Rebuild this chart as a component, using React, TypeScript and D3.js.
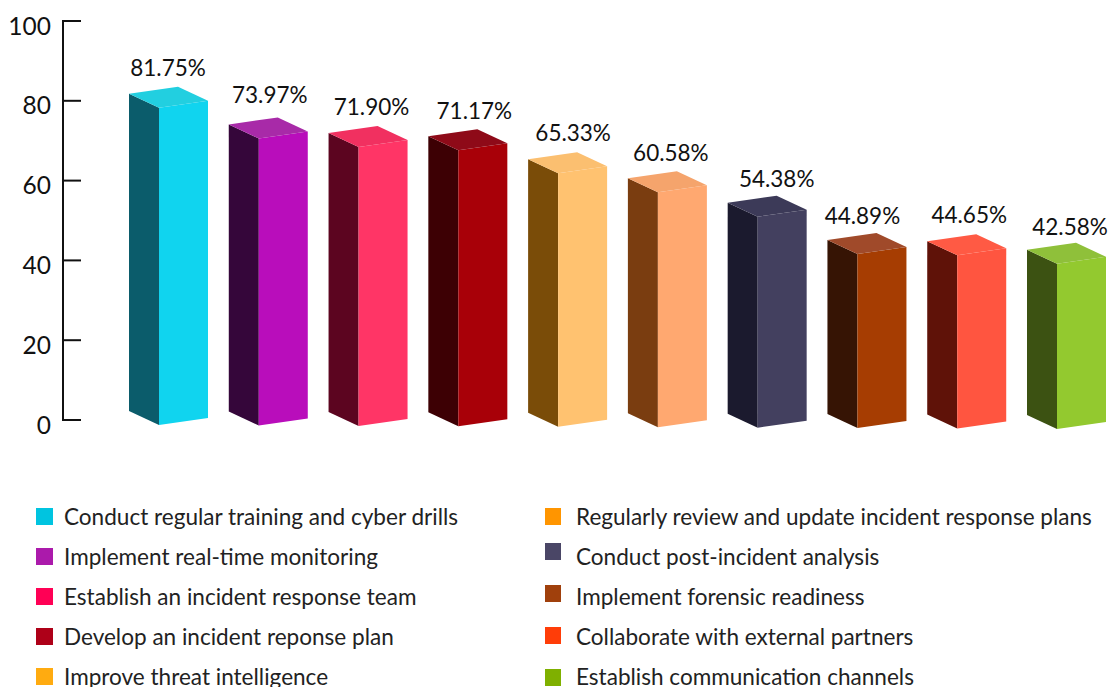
import React from "react";
import * as d3 from "d3";

const categories = [
  "Conduct regular training and cyber drills",
  "Implement real-time monitoring",
  "Establish an incident response team",
  "Develop an incident reponse plan",
  "Improve threat intelligence",
  "Regularly review and update incident response plans",
  "Conduct post-incident analysis",
  "Implement forensic readiness",
  "Collaborate with external partners",
  "Establish communication channels",
];
const values = [81.75, 73.97, 71.9, 71.17, 65.33, 60.58, 54.38, 44.89, 44.65, 42.58];
const frontColors = ["#10d4ef", "#b90dbb", "#ff3566", "#a80008", "#ffc270", "#ffa870", "#43405f", "#a63d02", "#ff5540", "#93c92f"];
const sideColors = ["#0b5c6b", "#35063a", "#5c0520", "#3d0004", "#7a4c08", "#7a3d10", "#1b1a2e", "#361404", "#5f1208", "#3c5212"];
const topColors = ["#22cfe0", "#a82aa8", "#f13060", "#8e0a18", "#fbbf70", "#f5a46c", "#3c3a58", "#a04a2a", "#ff5a44", "#8fc03a"];
const legendColors = ["#00c4e0", "#ab1aab", "#ff0055", "#ae0018", "#ffab10", "#ff9500", "#4a4666", "#a0400c", "#ff3d08", "#7fb000"];
const yTicks = [0, 20, 40, 60, 80, 100];
const legendRowsRight = [508, 543, 585, 627, 669];
const labelNudgeX = [1, 3, 5, 8, 7, 5, 11, -3, 4, 5];
const labelNudgeY = [1, -2, 1, 2, 1, 2, 3, 3, 1, 4];

const FONT = "Lato, sans-serif";
const SIDE = 30, FRONT = 49, RISE = 7, DROP = 14;

export default function App() {
  const y = d3.scaleLinear().domain([0, 100]).range([420, 21]);
  const barH = d3.scaleLinear().domain([0, 100]).range([0, 388]);
  const left = d3.scaleLinear().domain([0, 9]).range([129, 1027]);
  const base = d3.scaleLinear().domain([0, 9]).range([425, 429]);
  const line = d3.line();

  return (
    <svg width={1108} height={687} style={{ position: "absolute", left: 0, top: 0, display: "block", background: "#fff" }}>
      <g stroke="#111" strokeWidth={2} fill="none">
        <line x1={63} x2={63} y1={y(100) - 1} y2={y(0) + 1} />
        {yTicks.map((t) => <line key={t} x1={63} x2={81} y1={y(t)} y2={y(t)} />)}
      </g>
      {yTicks.map((t) => (
        <text key={t} x={51} y={y(t) + 13.5} textAnchor="end" fontFamily={FONT} fontSize={24.5} fill="#111">{t}</text>
      ))}
      {values.map((v, i) => {
        const L = left(i), M = L + SIDE, R = M + FRONT;
        const b = base(i), t = b - barH(v);
        const side = line([[L, t - DROP], [M, t], [M, b], [L, b - DROP]])!;
        const front = line([[M, t], [R, t - RISE], [R, b - RISE], [M, b]])!;
        const top = line([[L, t - DROP], [L + FRONT, t - DROP - RISE], [R, t - RISE], [M, t]])!;
        return (
          <g key={categories[i]}>
            <path d={side + "Z"} fill={sideColors[i]} />
            <path d={front + "Z"} fill={frontColors[i]} />
            <path d={top + "Z"} fill={topColors[i]} />
            <text x={L + 38 + labelNudgeX[i]} y={t - DROP - RISE - 12 + labelNudgeY[i]} textAnchor="middle" fontFamily={FONT} fontSize={22.5} fill="#111">{v.toFixed(2)}%</text>
          </g>
        );
      })}
      {categories.map((c, i) => {
        const col = i < 5 ? 0 : 1;
        const row = i % 5;
        const sy = col === 0 ? 508 + row * 40 : legendRowsRight[row];
        const sw = col === 0 ? 17 : 16;
        return (
          <g key={c}>
            <rect x={col === 0 ? 36 : 545} y={sy} width={sw} height={17} fill={legendColors[i]} />
            <text x={col === 0 ? 64 : 576} y={524.5 + row * 40} fontFamily={FONT} fontSize={22.55} fill="#222">{c}</text>
          </g>
        );
      })}
    </svg>
  );
}
